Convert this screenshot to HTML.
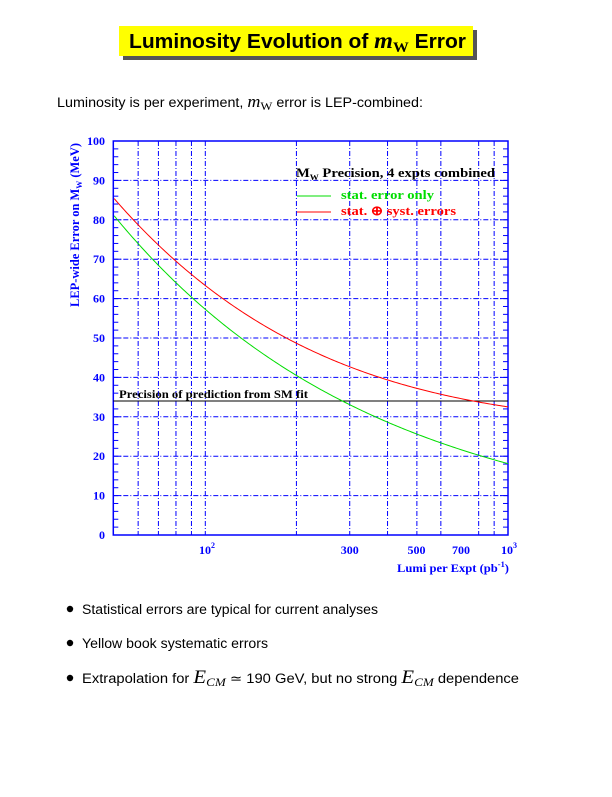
<!DOCTYPE html>
<html><head><meta charset="utf-8"><style>
body{margin:0;background:#fff;}
.t{font-family:"Liberation Sans",sans-serif;}
.s{font-family:"Liberation Serif",serif;}
</style></head><body>
<svg id="g" width="612" height="792" viewBox="0 0 612 792" xmlns="http://www.w3.org/2000/svg">
<rect x="123" y="30" width="354" height="30" fill="#555"/>
<rect x="119" y="26" width="354" height="30" fill="#ffff00"/>
<text x="129" y="48" class="t" font-size="20" font-weight="bold" textLength="337" lengthAdjust="spacingAndGlyphs">Luminosity Evolution of <tspan class="s" font-style="italic" font-size="23">m</tspan><tspan class="s" font-size="15" dy="4">W</tspan><tspan dy="-4"> Error</tspan></text>
<text x="57" y="107" class="t" font-size="13.5" textLength="366" lengthAdjust="spacingAndGlyphs">Luminosity is per experiment, <tspan class="s" font-style="italic" font-size="17">m</tspan><tspan class="s" font-size="12" dy="3">W</tspan><tspan dy="-3"> error is LEP-combined:</tspan></text>
<g id="grid" stroke="#0000ff" stroke-width="1" stroke-dasharray="5,2,1,2" fill="none"></g>
<rect x="113.3" y="141" width="394.7" height="394" fill="none" stroke="#0000ff" stroke-width="1.5"/>
<g id="ticks" stroke="#0000ff" stroke-width="1"></g>
<g id="ylab" class="s" font-size="12" font-weight="bold" fill="#0000ff" text-anchor="end"></g>
<line x1="113.3" y1="401" x2="508" y2="401" stroke="#000" stroke-width="1"/>
<text x="119" y="398" class="s" font-size="12" font-weight="bold" textLength="189" lengthAdjust="spacingAndGlyphs">Precision of prediction from SM fit</text>
<path id="gr" fill="none" stroke="#00dd00" stroke-width="1"/>
<path id="rd" fill="none" stroke="#ff0000" stroke-width="1"/>
<text x="296" y="177" class="s" font-size="13" font-weight="bold" textLength="199" lengthAdjust="spacingAndGlyphs">M<tspan font-size="8" dy="3">W</tspan><tspan dy="-3"> Precision, 4 expts combined</tspan></text>
<line x1="297" y1="196" x2="331" y2="196" stroke="#00dd00"/>
<text x="341" y="199" class="s" font-size="13" font-weight="bold" fill="#00dd00" textLength="93" lengthAdjust="spacingAndGlyphs">stat. error only</text>
<line x1="297" y1="212" x2="331" y2="212" stroke="#ff0000"/>
<text x="341" y="215" class="s" font-size="13" font-weight="bold" fill="#ff0000" textLength="115" lengthAdjust="spacingAndGlyphs">stat. ⊕ syst. errors</text>
<g class="s" font-size="12" font-weight="bold" fill="#0000ff" text-anchor="middle">
<text x="207" y="554">10<tspan font-size="8" dy="-6">2</tspan></text>
<text x="349.7" y="554">300</text>
<text x="416.5" y="554">500</text>
<text x="461" y="554">700</text>
<text x="509" y="554">10<tspan font-size="8" dy="-6">3</tspan></text>
<text x="453" y="572" textLength="112" lengthAdjust="spacingAndGlyphs">Lumi per Expt (pb<tspan font-size="8" dy="-5">-1</tspan><tspan dy="5">)</tspan></text>
</g>
<text transform="translate(79,225) rotate(-90)" text-anchor="middle" class="s" font-size="12.5" font-weight="bold" fill="#0000ff" textLength="164" lengthAdjust="spacingAndGlyphs">LEP-wide Error on M<tspan font-size="8" dy="3">W</tspan><tspan dy="-3"> (MeV)</tspan></text>
<g class="t" font-size="13.5">
<circle cx="70" cy="609" r="3.2"/><text x="82" y="614" textLength="296" lengthAdjust="spacingAndGlyphs">Statistical errors are typical for current analyses</text>
<circle cx="70" cy="643" r="3.2"/><text x="82" y="648" textLength="186" lengthAdjust="spacingAndGlyphs">Yellow book systematic errors</text>
<circle cx="70" cy="678" r="3.2"/><text x="82" y="683" textLength="437" lengthAdjust="spacingAndGlyphs">Extrapolation for <tspan class="s" font-style="italic" font-size="19">E</tspan><tspan class="s" font-style="italic" font-size="12" dy="3">CM</tspan><tspan dy="-3"> ≃ 190 GeV, but no strong </tspan><tspan class="s" font-style="italic" font-size="19">E</tspan><tspan class="s" font-style="italic" font-size="12" dy="3">CM</tspan><tspan dy="-3"> dependence</tspan></text>
</g>
</svg>
<script>
var NS="http://www.w3.org/2000/svg";
function X(L){return 205.3+302.7*Math.log10(L/100);}
function Y(v){return 535-v*3.94;}
function el(p,t,a){var e=document.createElementNS(NS,t);for(var k in a)e.setAttribute(k,a[k]);p.appendChild(e);return e;}
var g=document.getElementById('grid'),tk=document.getElementById('ticks'),yl=document.getElementById('ylab');
[60,70,80,90,100,200,300,400,500,600,800,900].forEach(function(L){var x=X(L);el(g,'line',{x1:x,y1:141,x2:x,y2:535});});
for(var v=10;v<100;v+=10){el(g,'line',{x1:113.3,y1:Y(v),x2:508,y2:Y(v)});}
for(var v=0;v<=100;v+=2){var big=v%10==0;var l=big?8:5;el(tk,'line',{x1:113.3,y1:Y(v),x2:113.3+l,y2:Y(v)});el(tk,'line',{x1:508,y1:Y(v),x2:508-l,y2:Y(v)});}
for(var v=0;v<=100;v+=10){var t=el(yl,'text',{x:105,y:Y(v)+4});t.textContent=v;}
var pg="",pr="";
for(var i=0;i<=200;i++){var L=50*Math.pow(20,i/200);var s=81*Math.sqrt(50/L);var r=Math.sqrt(s*s+27*27);
pg+=(i?"L":"M")+X(L).toFixed(2)+" "+Y(s).toFixed(2);pr+=(i?"L":"M")+X(L).toFixed(2)+" "+Y(r).toFixed(2);}
document.getElementById('gr').setAttribute('d',pg);document.getElementById('rd').setAttribute('d',pr);
</script>
</body></html>
